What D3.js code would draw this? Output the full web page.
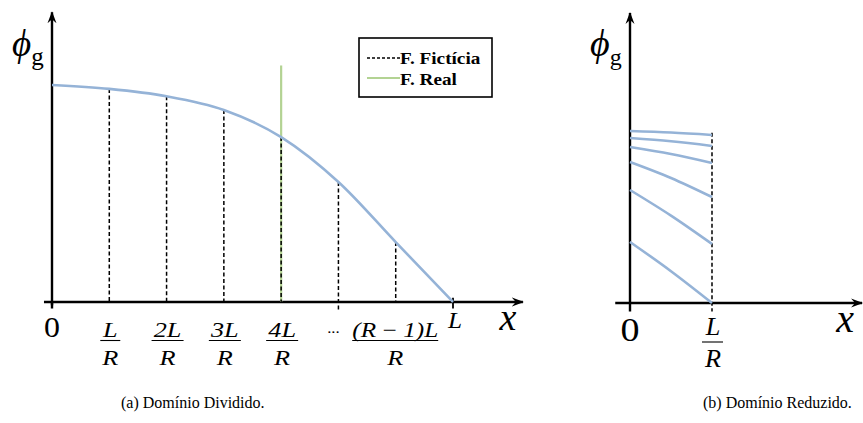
<!DOCTYPE html>
<html>
<head>
<meta charset="utf-8">
<script src="https://cdn.jsdelivr.net/npm/d3@7"></script>
<style>
  body { margin: 0; background: #fff; }
</style>
</head>
<body>
<script>
// ---- data ----
// (a) phi_g at x = k*L/R, k = 0..R  (R = 7 here), normalised to phi_g(0)
var nodesDividido = [0, 1, 2, 3, 4, 5, 6, 7];
var phiDividido = [1.0, 0.982, 0.948, 0.885, 0.760, 0.553, 0.276, 0.0];
var dashedNodes = [1, 2, 3, 4, 5, 6];
var realNode = 4;
var realTop = 1.09;
var tickLabelsA = [
  {k: 1, num: "L"}, {k: 2, num: "2L"}, {k: 3, num: "3L"}, {k: 4, num: "4L"}, {k: 6, num: "(R\u2009\u2212\u20091)L"}
];
var legendLabels = ["F. Fictícia", "F. Real"];

// (b) the six sub-domain solutions drawn on [0, L/R]; start, middle, end
var segX = [0, 0.5, 1];
var segReduzido = [
  [1.0, 0.991, 0.977],
  [0.959, 0.940, 0.913],
  [0.907, 0.866, 0.814],
  [0.820, 0.727, 0.616],
  [0.657, 0.508, 0.343],
  [0.355, 0.185, 0.0]
];
var dashTopB = 0.99;

var captions = ["(a) Domínio Dividido.", "(b) Domínio Reduzido."];

// ---- style ----
var width_outer = 863, height_outer = 423;
var blue = "#95b3d7", green = "#b3d393";
var axisWidth = 2.4;
var serif = "Liberation Serif";

var svg = d3.select("body").append("svg")
  .attr("width", width_outer)
  .attr("height", height_outer)
  .attr("font-family", serif);

// the source figure is stretched sideways, so labels get an x-scale
function label(g, x, y, size, italic, sx, s) {
  return g.append("text")
    .attr("font-family", serif)
    .attr("font-style", italic ? "italic" : "normal")
    .attr("font-size", size)
    .attr("text-anchor", "middle")
    .attr("transform", "translate(" + x + "," + y + ") scale(" + sx + ",1)")
    .text(s);
}

var defs = svg.append("defs");
defs.append("marker")
  .attr("id", "arrow")
  .attr("markerUnits", "userSpaceOnUse")
  .attr("viewBox", "0 0 12 10")
  .attr("refX", 11).attr("refY", 5)
  .attr("markerWidth", 12).attr("markerHeight", 10)
  .attr("orient", "auto")
  .append("path")
    .attr("d", "M0,0.5 L12,5 L0,9.5 L4,5 Z")
    .attr("fill", "#000");

// ================= (a) Domínio Dividido =================
var xA = d3.scaleLinear().domain([0, 7]).range([52, 453]);
var yA = d3.scaleLinear().domain([0, 1]).range([302, 85]);

var gA = svg.append("g");

// axes
gA.append("line")
  .attr("x1", xA(-0.14)).attr("x2", xA(8.22))
  .attr("y1", yA(0)).attr("y2", yA(0))
  .attr("stroke", "#000").attr("stroke-width", axisWidth)
  .attr("marker-end", "url(#arrow)");
gA.append("line")
  .attr("x1", xA(0)).attr("x2", xA(0))
  .attr("y1", yA(-0.015)).attr("y2", yA(1.335))
  .attr("stroke", "#000").attr("stroke-width", axisWidth)
  .attr("marker-end", "url(#arrow)");
// small ticks at 0 and L
gA.append("line")
  .attr("x1", xA(0)).attr("x2", xA(0))
  .attr("y1", yA(0)).attr("y2", yA(-0.03))
  .attr("stroke", "#000").attr("stroke-width", axisWidth);
gA.append("line")
  .attr("x1", xA(7)).attr("x2", xA(7))
  .attr("y1", yA(0.02)).attr("y2", yA(-0.03))
  .attr("stroke", "#000").attr("stroke-width", 1.8);

// real boundary (green)
gA.append("line")
  .attr("x1", xA(realNode)).attr("x2", xA(realNode))
  .attr("y1", yA(realTop)).attr("y2", yA(0))
  .attr("stroke", green).attr("stroke-width", 2.2);

// fictitious boundaries (dashed)
gA.selectAll(".fict")
  .data(dashedNodes)
  .enter().append("line")
    .attr("class", "fict")
    .attr("x1", function(d) { return xA(d); })
    .attr("x2", function(d) { return xA(d); })
    .attr("y1", function(d) { return yA(phiDividido[d]); })
    .attr("y2", function(d) { return d == 5 ? yA(-0.045) : yA(0); })
    .attr("stroke", "#000").attr("stroke-width", 1.5)
    .attr("stroke-dasharray", "4,2.5");

// phi curve
var lineA = d3.line()
  .x(function(d, i) { return xA(nodesDividido[i]); })
  .y(function(d) { return yA(d); })
  .curve(d3.curveMonotoneX);
gA.append("path")
  .datum(phiDividido)
  .attr("d", lineA)
  .attr("fill", "none")
  .attr("stroke", blue).attr("stroke-width", 2.6);

// labels
label(gA, xA(0), 337, 29, false, 1.1, "0");
label(gA, xA(7) + 2, 328, 23, true, 1.1, "L");
label(gA, xA(5) - 5, 333, 14, false, 1.2, "...");
label(gA, 508, 330, 38, true, 1.0, "x");

var fracA = gA.selectAll(".frac")
  .data(tickLabelsA)
  .enter().append("g")
    .attr("class", "frac")
    .attr("transform", function(d) {
      var cx = d.k == 6 ? xA(d.k) - 0.5 : xA(d.k) + 1;
      return "translate(" + cx + ",0)";
    });
fracA.each(function(d) {
  var g = d3.select(this);
  label(g, 0, 337, 21, true, d.k == 6 ? 1.2 : 1.25, d.num);
  label(g, 0, 365, 21, true, 1.25, "R");
});
fracA.append("line")
  .attr("x1", function(d) { return d.k == 6 ? -43 : (d.num.length > 1 ? -16 : -10); })
  .attr("x2", function(d) { return d.k == 6 ? 43 : (d.num.length > 1 ? 16 : 10); })
  .attr("y1", 340.5).attr("y2", 340.5)
  .attr("stroke", "#000").attr("stroke-width", 1.1);

// phi_g label
var phiA = gA.append("text").attr("font-family", serif).attr("x", 12).attr("y", 56);
phiA.append("tspan").attr("font-style", "italic").attr("font-size", 37).text("\u03d5");
phiA.append("tspan").attr("font-size", 25).attr("dy", 9).text("g");

// legend
var leg = gA.append("g").attr("transform", "translate(359,38)");
leg.append("rect")
  .attr("width", 133).attr("height", 59)
  .attr("fill", "#fff").attr("stroke", "#000").attr("stroke-width", 1.6);
leg.append("line")
  .attr("x1", 8).attr("x2", 41).attr("y1", 20).attr("y2", 20)
  .attr("stroke", "#000").attr("stroke-width", 1.3).attr("stroke-dasharray", "3,2");
leg.append("line")
  .attr("x1", 8).attr("x2", 41).attr("y1", 40).attr("y2", 40)
  .attr("stroke", green).attr("stroke-width", 2);
leg.selectAll(".legtxt")
  .data(legendLabels)
  .enter().append("text")
    .attr("class", "legtxt")
    .attr("font-family", serif)
    .attr("transform", function(d, i) { return "translate(41," + (25.5 + i * 21) + ") scale(1.13,1)"; })
    .attr("font-size", 17).attr("font-weight", "bold")
    .text(function(d) { return d; });

// ================= (b) Domínio Reduzido =================
var xB = d3.scaleLinear().domain([0, 1]).range([630, 712]);
var yB = d3.scaleLinear().domain([0, 1]).range([303, 131]);

var gB = svg.append("g");

gB.append("line")
  .attr("x1", xB(-0.18)).attr("x2", xB(2.83))
  .attr("y1", yB(0)).attr("y2", yB(0))
  .attr("stroke", "#000").attr("stroke-width", axisWidth)
  .attr("marker-end", "url(#arrow)");
gB.append("line")
  .attr("x1", xB(0)).attr("x2", xB(0))
  .attr("y1", yB(-0.05)).attr("y2", yB(1.686))
  .attr("stroke", "#000").attr("stroke-width", axisWidth)
  .attr("marker-end", "url(#arrow)");

gB.append("line")
  .attr("x1", xB(1)).attr("x2", xB(1))
  .attr("y1", yB(dashTopB)).attr("y2", yB(-0.05))
  .attr("stroke", "#000").attr("stroke-width", 1.5)
  .attr("stroke-dasharray", "4,2.5");

var lineB = d3.line()
  .x(function(d, i) { return xB(segX[i]); })
  .y(function(d) { return yB(d); })
  .curve(d3.curveMonotoneX);
gB.selectAll(".seg")
  .data(segReduzido)
  .enter().append("path")
    .attr("class", "seg")
    .attr("d", lineB)
    .attr("fill", "none")
    .attr("stroke", blue).attr("stroke-width", 2.6);

label(gB, xB(0), 341, 34, false, 1.12, "0");
label(gB, 845, 332, 40, true, 1.0, "x");
label(gB, xB(1) + 1, 335, 25, true, 1.05, "L");
gB.append("line")
  .attr("x1", xB(1) - 10).attr("x2", xB(1) + 11)
  .attr("y1", 342).attr("y2", 342)
  .attr("stroke", "#000").attr("stroke-width", 1.1);
label(gB, xB(1) + 1, 367, 25, true, 1.05, "R");

var phiB = gB.append("text").attr("font-family", serif).attr("x", 590).attr("y", 56);
phiB.append("tspan").attr("font-style", "italic").attr("font-size", 38).text("\u03d5");
phiB.append("tspan").attr("font-size", 24).attr("dy", 9).text("g");

// ---- captions ----
svg.selectAll(".caption")
  .data(captions)
  .enter().append("text")
    .attr("class", "caption")
    .attr("font-family", serif)
    .attr("x", function(d, i) { return i == 0 ? 121 : 703; })
    .attr("y", 408)
    .attr("font-size", 16)
    .text(function(d) { return d; });
</script>
</body>
</html>
